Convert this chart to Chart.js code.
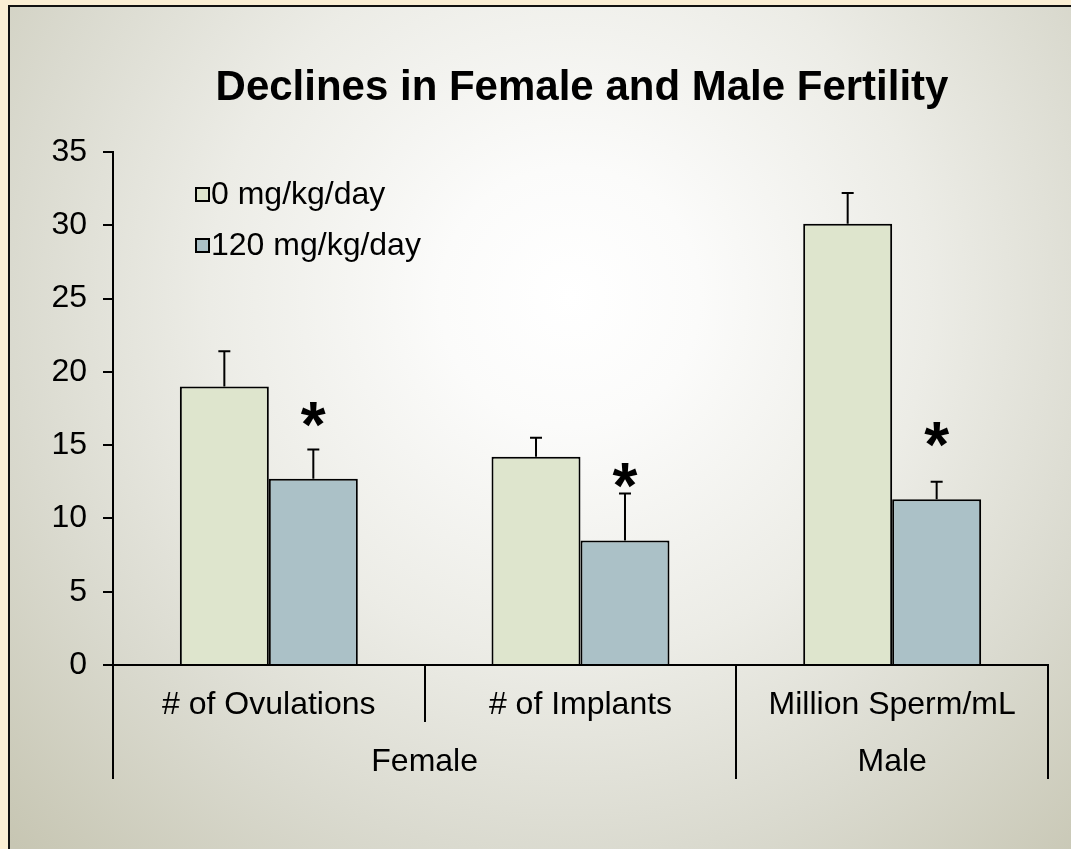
<!DOCTYPE html>
<html>
<head>
<meta charset="utf-8">
<script src="https://cdn.jsdelivr.net/npm/chart.js@4/dist/chart.umd.min.js"></script>
<style>
    html, body { margin: 0; padding: 0; }
    body { width: 1071px; height: 849px; background: #faeed4; position: relative; overflow: hidden; }
    #panel {
        position: absolute; left: 8px; top: 5px; width: 1080px; height: 860px;
        border-left: 2px solid #111; border-top: 2px solid #111;
        background: radial-gradient(circle at 560px 290px, #ffffff 0px, #fbfbfa 130px, #ececE6 360px, #dadacf 560px, #c7c6b3 780px);
    }
    #chart { position: absolute; left: 0; top: 0; }
</style>
</head>
<body>
<div id="panel"></div>
<canvas id="chart" width="1071" height="849"></canvas>
<script>
// ------------ DATA -------------
const TITLE = "Declines in Female and Male Fertility";
const categories = ["# of Ovulations", "# of Implants", "Million Sperm/mL"];
const groupLabels = ["Female", "Male"];
const groupSpans = [2, 1];            // how many categories each group covers
const yTicks = [0, 5, 10, 15, 20, 25, 30, 35];

const seriesNames = ["0 mg/kg/day", "120 mg/kg/day"];
const controlValues = [19.0, 14.2, 30.1];
const controlErrors = [2.4, 1.3, 2.1];
const treatedValues = [12.7, 8.5, 11.3];
const treatedErrors = [2.0, 3.2, 1.2];
// height (in y units) of the significance asterisk above each treated bar
const starLevels = [17.4, 13.2, 16.0];

const FONT = "'Liberation Sans', Arial, sans-serif";
const colors = ["#dee5cd", "#abc1c7"];

// ================== PLUGINS ==================
const titlePlugin = {
    id: "slideTitle",
    afterDraw(chart) {
        const ctx = chart.ctx;
        ctx.save();
        ctx.fillStyle = "#000";
        ctx.font = `bold 42px ${FONT}`;
        ctx.textAlign = "center";
        ctx.textBaseline = "alphabetic";
        ctx.fillText(TITLE, 582, 100);
        ctx.restore();
    }
};

const errorBarPlugin = {
    id: "errorBars",
    afterDatasetsDraw(chart) {
        const ctx = chart.ctx;
        const y = chart.scales.y;
        ctx.save();
        ctx.strokeStyle = "#000";
        ctx.lineWidth = 2;
        chart.data.datasets.forEach((ds, i) => {
            const meta = chart.getDatasetMeta(i);
            meta.data.forEach((bar, j) => {
                const top = y.getPixelForValue(ds.data[j] + ds.errors[j]);
                ctx.beginPath();
                ctx.moveTo(bar.x, bar.y);
                ctx.lineTo(bar.x, top);
                ctx.moveTo(bar.x - 6, top);
                ctx.lineTo(bar.x + 6, top);
                ctx.stroke();
            });
        });
        // asterisks over treated bars
        const meta = chart.getDatasetMeta(1);
        ctx.fillStyle = "#000";
        ctx.font = `bold 64px ${FONT}`;
        ctx.textAlign = "center";
        ctx.textBaseline = "alphabetic";
        meta.data.forEach((bar, j) => {
            const cy = y.getPixelForValue(starLevels[j]);
            ctx.fillText("*", bar.x, cy + 0.575 * 64);
        });
        ctx.restore();
    }
};

const legendPlugin = {
    id: "insideLegend",
    afterDraw(chart) {
        const ctx = chart.ctx;
        ctx.save();
        ctx.font = `32px ${FONT}`;
        ctx.textAlign = "left";
        ctx.textBaseline = "middle";
        chart.data.datasets.forEach((ds, i) => {
            const cy = 194 + i * 51;
            ctx.fillStyle = ds.backgroundColor;
            ctx.fillRect(196, cy - 6, 13, 13);
            ctx.strokeStyle = "#000";
            ctx.lineWidth = 2;
            ctx.strokeRect(196, cy - 6, 13, 13);
            ctx.fillStyle = "#000";
            ctx.fillText(ds.label, 211, cy + 1);
        });
        ctx.restore();
    }
};

const categoryAxisPlugin = {
    id: "groupedAxis",
    afterDraw(chart) {
        const ctx = chart.ctx;
        const x = chart.scales.x;
        const base = chart.chartArea.bottom;
        const w = (x.right - x.left) / categories.length;
        ctx.save();
        ctx.fillStyle = "#000";
        ctx.strokeStyle = "#000";
        ctx.lineWidth = 2;
        ctx.font = `32px ${FONT}`;
        ctx.textAlign = "center";
        ctx.textBaseline = "alphabetic";
        categories.forEach((c, i) => {
            ctx.fillText(c, x.getPixelForValue(i), 714);
        });
        // dividers: long at group edges, short inside a group
        const groupEdges = [0];
        groupSpans.forEach(s => groupEdges.push(groupEdges[groupEdges.length - 1] + s));
        for (let k = 0; k <= categories.length; k++) {
            const px = Math.round(x.left + k * w);
            const bottom = groupEdges.includes(k) ? 779 : 722;
            ctx.beginPath();
            ctx.moveTo(px, base);
            ctx.lineTo(px, bottom);
            ctx.stroke();
        }
        groupLabels.forEach((g, i) => {
            const mid = x.left + w * (groupEdges[i] + groupEdges[i + 1]) / 2;
            ctx.fillText(g, mid, 771);
        });
        ctx.restore();
    }
};

// ================== CHART ==================
new Chart(document.getElementById("chart"), {
    type: "bar",
    data: {
        labels: categories,
        datasets: [
            {
                label: seriesNames[0],
                data: controlValues,
                errors: controlErrors,
                backgroundColor: colors[0],
                borderColor: "#000",
                borderWidth: 2,
                borderSkipped: "bottom"
            },
            {
                label: seriesNames[1],
                data: treatedValues,
                errors: treatedErrors,
                backgroundColor: colors[1],
                borderColor: "#000",
                borderWidth: 2,
                borderSkipped: "bottom"
            }
        ]
    },
    options: {
        responsive: false,
        animation: false,
        devicePixelRatio: 1,
        layout: { padding: { top: 152, right: 23, left: 0, bottom: 0 } },
        datasets: { bar: { categoryPercentage: 0.571, barPercentage: 1.0 } },
        plugins: {
            legend: { display: false },
            title: { display: false },
            tooltip: { enabled: false }
        },
        scales: {
            x: {
                grid: { display: false },
                border: { display: true, color: "#000", width: 2 },
                ticks: { display: false },
                afterFit(scale) { scale.height = 849 - 665; }
            },
            y: {
                min: 0,
                max: 35,
                afterBuildTicks(scale) { scale.ticks = yTicks.map(v => ({ value: v })); },
                grid: { drawOnChartArea: false, drawTicks: true, tickLength: 10, color: "#000", lineWidth: 2 },
                border: { display: true, color: "#000", width: 2 },
                ticks: { color: "#000", padding: 16, font: { family: FONT, size: 32 } },
                afterFit(scale) { scale.width = 113; }
            }
        }
    },
    plugins: [titlePlugin, errorBarPlugin, legendPlugin, categoryAxisPlugin]
});
</script>
</body>
</html>
